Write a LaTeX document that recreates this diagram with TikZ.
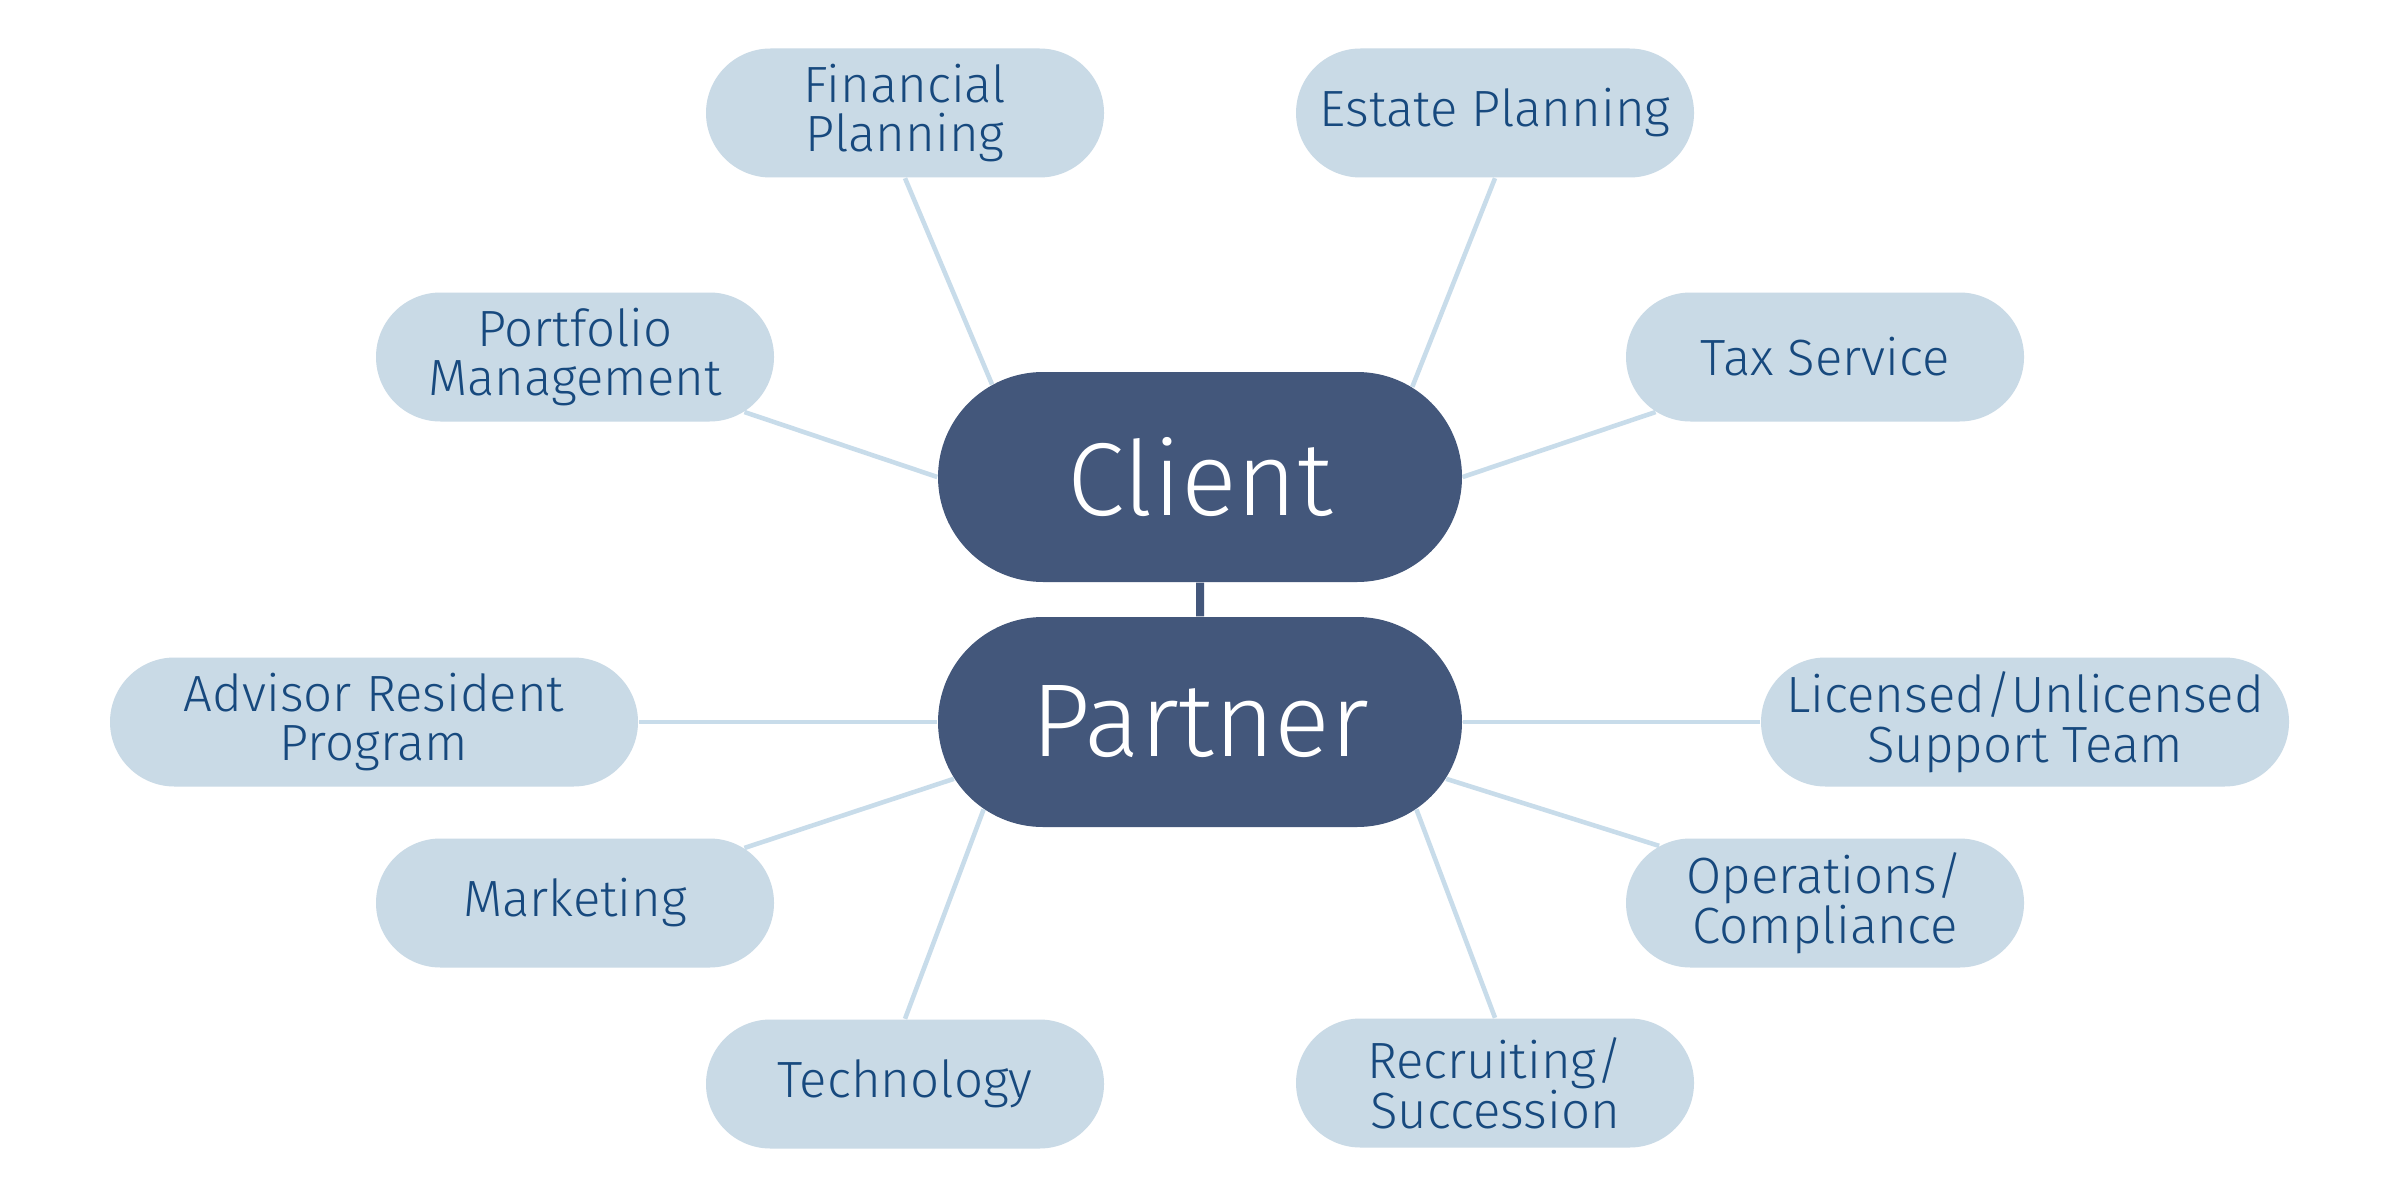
\documentclass[tikz,border=0pt]{standalone}
\usepackage{fontspec}
\setmainfont{Fira Sans Light}
\definecolor{HubBlue}{RGB}{67, 87, 123}
\definecolor{LeafBlue}{RGB}{201, 218, 230}
\definecolor{LeafText}{RGB}{23, 73, 126}
\definecolor{LinkBlue}{RGB}{200, 220, 234}
\usetikzlibrary{shapes.misc, positioning}

\begin{document}
\begin{tikzpicture}
        \tikzstyle{hub} = [rounded rectangle, fill=HubBlue, text=white,
            minimum width=5.24cm, minimum height=2.1cm, inner sep=0pt,
            font=\fontsize{29.5}{32}\selectfont]
        \tikzstyle{leaf} = [rounded rectangle, fill=LeafBlue, text=LeafText,
            minimum width=3.98cm, minimum height=1.29cm, inner sep=0pt,
            align=center, font=\fontsize{14.5}{14.2}\selectfont]
        \tikzstyle{wide} = [leaf, minimum width=5.28cm]
        \tikzstyle{link} = [draw=LinkBlue, line width=1.3pt]

        \useasboundingbox [fill=white] (0,0) rectangle (24,12);

        \node [hub] (client) at (12,7.23) {Client};
        \node [hub] (partner) at (12,4.78) {Partner};

        \node [leaf] (finance) at (9.05,10.87) {Financial\\Planning};
        \node [leaf] (estate) at (14.95,10.87) {Estate Planning};
        \node [leaf] (portfolio) at (5.75,8.43) {Portfolio\\Management};
        \node [leaf] (tax) at (18.25,8.43) {Tax Service};
        \node [wide] (advisor) at (3.74,4.78) {Advisor Resident\\Program};
        \node [wide] (support) at (20.25,4.78) {Licensed/Unlicensed\\Support Team};
        \node [leaf] (marketing) at (5.75,2.97) {Marketing};
        \node [leaf] (operations) at (18.25,2.97) {Operations/\\Compliance};
        \node [leaf] (tech) at (9.05,1.16) {Technology};
        \node [leaf] (recruit) at (14.95,1.17) {Recruiting/\\Succession};

        \path [draw=HubBlue, line width=2.3pt] (client) -- (partner);

        \path [link] (finance.south) -- (client.156.8);
        \path [link] (estate.south) -- (client.23.2);
        \path [link] (portfolio.-18.1) -- (client.west);
        \path [link] (tax.198.1) -- (client.east);
        \path [link] (advisor.east) -- (partner.west);
        \path [link] (support.west) -- (partner.east);
        \path [link] (marketing.18.9) -- (partner.193.5);
        \path [link] (operations.161.1) -- (partner.-13.5);
        \path [link] (tech.north) -- (partner.202.4);
        \path [link] (recruit.north) -- (partner.-22.4);
    \end{tikzpicture}
\end{document}
